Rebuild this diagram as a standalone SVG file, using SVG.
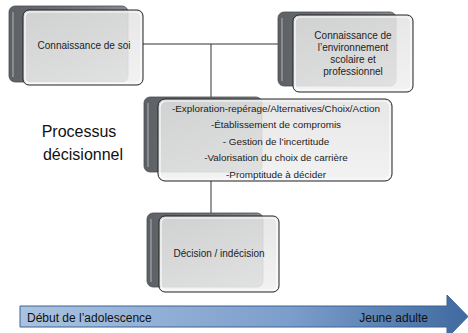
<svg xmlns="http://www.w3.org/2000/svg" width="468" height="333" viewBox="0 0 468 333">
<style>
.back{fill:url(#gDark);stroke:#4a4d52;stroke-width:0.8}
.hl{fill:none;stroke:#b5b8bc;stroke-width:1.2;opacity:0.8}
.front{fill:url(#gLight);stroke:#222;stroke-width:1;fill-opacity:0.86}
.inner{fill:none;stroke:#fff;stroke-width:1.2;opacity:0.9}
.t{font-family:"Liberation Sans",Arial,sans-serif;fill:#222;text-anchor:middle}
.conn{stroke:#333;stroke-width:1;fill:none}
</style>
<defs>
<linearGradient id="gDark" x1="0" y1="0" x2="1" y2="0">
<stop offset="0" stop-color="#5d6166"/>
<stop offset="0.5" stop-color="#6e7277"/>
<stop offset="1" stop-color="#878b90"/>
</linearGradient>
<linearGradient id="gLight" x1="0" y1="0" x2="0" y2="1">
<stop offset="0" stop-color="#e3e3e3"/>
<stop offset="1" stop-color="#f0f0f0"/>
</linearGradient>
<linearGradient id="gArrow" x1="0" y1="0" x2="1" y2="0">
<stop offset="0" stop-color="#a9c3e0"/>
<stop offset="0.6" stop-color="#7c9ecb"/>
<stop offset="1" stop-color="#3f6aa0"/>
</linearGradient>
</defs>
<g id="connectors">
<line class="conn" x1="143" y1="44" x2="279" y2="44"/>
<line class="conn" x1="211" y1="44" x2="211" y2="97"/>
<line class="conn" x1="211" y1="181" x2="211" y2="213"/>
</g>
<g id="node-soi">
<rect class="back" x="9" y="6" width="119" height="76" rx="6"/>
<line class="hl" x1="13" y1="12" x2="13" y2="77"/>
<rect class="front" x="23" y="10" width="120" height="75" rx="6"/>
<rect class="inner" x="25" y="12" width="116" height="71" rx="5"/>
<text class="t" x="84" y="49" font-size="10">Connaissance de soi</text>
</g>
<g id="node-env">
<rect class="back" x="278" y="12" width="118" height="74" rx="6"/>
<line class="hl" x1="282" y1="18" x2="282" y2="81"/>
<rect class="front" x="293" y="15" width="120" height="77" rx="6"/>
<rect class="inner" x="295" y="17" width="116" height="73" rx="5"/>
<text class="t" x="353" y="39" font-size="10">Connaissance de</text>
<text class="t" x="353" y="51" font-size="10">l’environnement</text>
<text class="t" x="353" y="63" font-size="10">scolaire et</text>
<text class="t" x="353" y="75" font-size="10">professionnel</text>
</g>
<g id="node-processus">
<rect class="back" x="144" y="97" width="118" height="75" rx="6"/>
<line class="hl" x1="148" y1="103" x2="148" y2="167"/>
<rect class="front" x="158" y="99" width="234" height="82" rx="7"/>
<rect class="inner" x="160" y="101" width="230" height="78" rx="6"/>
<text class="t" x="276" y="112" font-size="9.9">-Exploration-repérage/Alternatives/Choix/Action</text>
<text class="t" x="276" y="128" font-size="9.9">-Établissement de compromis</text>
<text class="t" x="276" y="145" font-size="9.9">- Gestion de l’incertitude</text>
<text class="t" x="276" y="161" font-size="9.9">-Valorisation du choix de carrière</text>
<text class="t" x="276" y="178" font-size="9.9">-Promptitude à décider</text>
</g>
<g id="label-processus">
<text class="t" x="79" y="137" font-size="16" style="fill:#111">Processus</text>
<text class="t" x="83" y="160" font-size="16" style="fill:#111">décisionnel</text>
</g>
<g id="node-decision">
<rect class="back" x="147" y="213" width="116" height="74" rx="6"/>
<line class="hl" x1="151" y1="219" x2="151" y2="282"/>
<rect class="front" x="159" y="216" width="120" height="76" rx="6"/>
<rect class="inner" x="161" y="218" width="116" height="72" rx="5"/>
<text class="t" x="219" y="257" font-size="10">Décision / indécision</text>
</g>
<g id="timeline">
<path d="M20,306 L447,306 L447,295 L468,316.5 L447,338 L447,327 L20,327 Z" fill="url(#gArrow)" stroke="#3b6394" stroke-width="1"/>
<text x="27" y="322" font-size="12" font-family="'Liberation Sans',Arial,sans-serif" fill="#111">Début de l’adolescence</text>
<text x="428" y="322" font-size="12" font-family="'Liberation Sans',Arial,sans-serif" fill="#111" text-anchor="end">Jeune adulte</text>
</g>
</svg>
